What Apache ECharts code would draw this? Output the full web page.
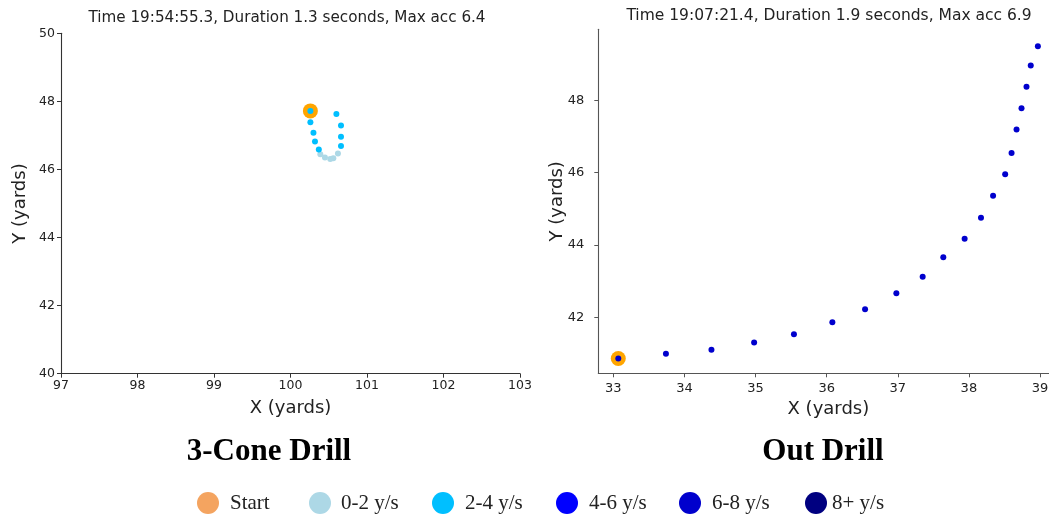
<!DOCTYPE html>
<html>
<head>
<meta charset="utf-8">
<script src="https://cdn.jsdelivr.net/npm/echarts@6/dist/echarts.min.js"></script>
<style>
html,body{margin:0;padding:0;background:#fff;}
#chart{width:1049px;height:517px;}
</style>
</head>
<body>
<div id="chart"></div>
<script>
// ---- data ----
const leftTitle = 'Time 19:54:55.3, Duration 1.3 seconds, Max acc 6.4';
const rightTitle = 'Time 19:07:21.4, Duration 1.9 seconds, Max acc 6.9';
const leftCaption = '3-Cone Drill';
const rightCaption = 'Out Drill';

const leftStart = [[100.26, 47.72]];
const leftSpeed24 = [[100.26, 47.72], [100.26, 47.39], [100.30, 47.08], [100.32, 46.82], [100.37, 46.59],
                     [100.66, 46.69], [100.66, 46.96], [100.66, 47.29], [100.60, 47.63]];
const leftSpeed02 = [[100.39, 46.45], [100.45, 46.35], [100.52, 46.31], [100.56, 46.33], [100.62, 46.47]];

const rightStart = [[33.07, 40.86]];
const rightSpeed68 = [[33.07, 40.86], [33.74, 40.99], [34.38, 41.10], [34.98, 41.30], [35.54, 41.53],
                      [36.08, 41.86], [36.54, 42.22], [36.98, 42.66], [37.35, 43.12], [37.64, 43.66],
                      [37.94, 44.17], [38.17, 44.75], [38.34, 45.36], [38.51, 45.95], [38.60, 46.54],
                      [38.67, 47.19], [38.74, 47.78], [38.81, 48.37], [38.87, 48.96], [38.97, 49.49]];

const leftXTicks = [97, 98, 99, 100, 101, 102, 103];
const leftYTicks = [40, 42, 44, 46, 48, 50];
const rightXTicks = [33, 34, 35, 36, 37, 38, 39];
const rightYTicks = [42, 44, 46, 48];

const legendNames = ['Start', '0-2 y/s', '2-4 y/s', '4-6 y/s', '6-8 y/s', '8+ y/s'];
const legendColors = ['#f4a460', '#add8e6', '#00bfff', '#0000ff', '#0000cd', '#000080'];

// ---- chart ----
const chart = echarts.init(document.getElementById('chart'), null, {renderer: 'canvas'});
const tickFontL = {fontFamily: 'DejaVu Sans', fontSize: 12.5, color: '#222'};
const tickFontR = {fontFamily: 'DejaVu Sans', fontSize: 13, color: '#222'};
const nameFont = {fontFamily: 'DejaVu Sans', fontSize: 18, color: '#222'};

function axisBase(color) {
  return {
    axisLine: {show: true, onZero: false, lineStyle: {color: color, width: 1.1}},
    axisTick: {show: true, inside: false, length: 4, lineStyle: {color: color, width: 1}},
    splitLine: {show: false}
  };
}

const legendLefts = [197, 309, 432, 556, 679, 805];
const legendTextPad = [6, 5, 6, 6, 6, 0];
const legends = legendNames.map((n, i) => ({
  left: legendLefts[i], top: 492, padding: 0, itemWidth: 22, itemHeight: 22, icon: 'circle',
  selectedMode: false,
  itemStyle: {opacity: 1},
  data: [{name: n, itemStyle: {color: legendColors[i], opacity: 1}}],
  textStyle: {fontFamily: 'Liberation Serif', fontSize: 21, color: '#222', padding: [0, 0, 0, legendTextPad[i]]}
}));

const option = {
  backgroundColor: '#fff',
  animation: false,
  legend: legends,
  graphic: [
    {type: 'text', x: 287, y: 18, style: {text: leftTitle, align: 'center', verticalAlign: 'middle', font: '15.2px "DejaVu Sans"', fill: '#222'}},
    {type: 'text', x: 829, y: 16, style: {text: rightTitle, align: 'center', verticalAlign: 'middle', font: '15.5px "DejaVu Sans"', fill: '#222'}},
    {type: 'text', x: 269, y: 452, style: {text: leftCaption, align: 'center', verticalAlign: 'middle', font: 'bold 31px "Liberation Serif"', fill: '#000'}},
    {type: 'text', x: 823, y: 452, style: {text: rightCaption, align: 'center', verticalAlign: 'middle', font: 'bold 31px "Liberation Serif"', fill: '#000'}}
  ],
  grid: [
    {left: 61, top: 33.3, width: 459, height: 340.4, containLabel: false, outerBoundsMode: 'none'},
    {left: 598.3, top: 29.3, width: 460.2, height: 344, containLabel: false, outerBoundsMode: 'none'}
  ],
  xAxis: [
    Object.assign(axisBase('#333'), {
      gridIndex: 0, type: 'value', min: 97, max: 103, interval: 1,
      axisLabel: Object.assign({margin: 6}, tickFontL),
      name: 'X (yards)', nameLocation: 'middle', nameGap: 26, nameTextStyle: nameFont
    }),
    Object.assign(axisBase('#555'), {
      gridIndex: 1, type: 'value', min: 32.789, max: 39.26,
      axisTick: {show: true, length: 4, customValues: rightXTicks, lineStyle: {color: '#555', width: 1}},
      axisLabel: Object.assign({margin: 9, customValues: rightXTicks}, tickFontR),
      name: 'X (yards)', nameLocation: 'middle', nameGap: 26, nameTextStyle: nameFont
    })
  ],
  yAxis: [
    Object.assign(axisBase('#333'), {
      gridIndex: 0, type: 'value', min: 40, max: 50, interval: 2,
      axisLabel: Object.assign({margin: 6}, tickFontL),
      name: 'Y (yards)', nameLocation: 'middle', nameGap: 32, nameMoveOverlap: false, nameTextStyle: nameFont
    }),
    Object.assign(axisBase('#555'), {
      gridIndex: 1, type: 'value', min: 40.45, max: 49.96,
      axisTick: {show: true, length: 4, customValues: rightYTicks, lineStyle: {color: '#555', width: 1}},
      axisLabel: Object.assign({margin: 14, customValues: rightYTicks}, tickFontR),
      name: 'Y (yards)', nameLocation: 'middle', nameGap: 32, nameMoveOverlap: false, nameTextStyle: nameFont
    })
  ],
  series: [
    {name: 'Start', type: 'scatter', xAxisIndex: 0, yAxisIndex: 0, data: leftStart, symbolSize: 15,
     itemStyle: {color: '#ffa500', opacity: 1}},
    {name: '0-2 y/s', type: 'scatter', xAxisIndex: 0, yAxisIndex: 0, data: leftSpeed02, symbolSize: 6,
     itemStyle: {color: '#add8e6', opacity: 1}},
    {name: '2-4 y/s', type: 'scatter', xAxisIndex: 0, yAxisIndex: 0, data: leftSpeed24, symbolSize: 6,
     itemStyle: {color: '#00bfff', opacity: 1}},
    {name: 'Start', type: 'scatter', xAxisIndex: 1, yAxisIndex: 1, data: rightStart, symbolSize: 15,
     itemStyle: {color: '#ffa500', opacity: 1}},
    {name: '4-6 y/s', type: 'scatter', xAxisIndex: 1, yAxisIndex: 1, data: [], itemStyle: {color: '#0000ff', opacity: 1}},
    {name: '6-8 y/s', type: 'scatter', xAxisIndex: 1, yAxisIndex: 1, data: rightSpeed68, symbolSize: 6,
     itemStyle: {color: '#0000cd', opacity: 1}},
    {name: '8+ y/s', type: 'scatter', xAxisIndex: 1, yAxisIndex: 1, data: [], itemStyle: {color: '#000080', opacity: 1}}
  ]
};
chart.setOption(option);
</script>
</body>
</html>
